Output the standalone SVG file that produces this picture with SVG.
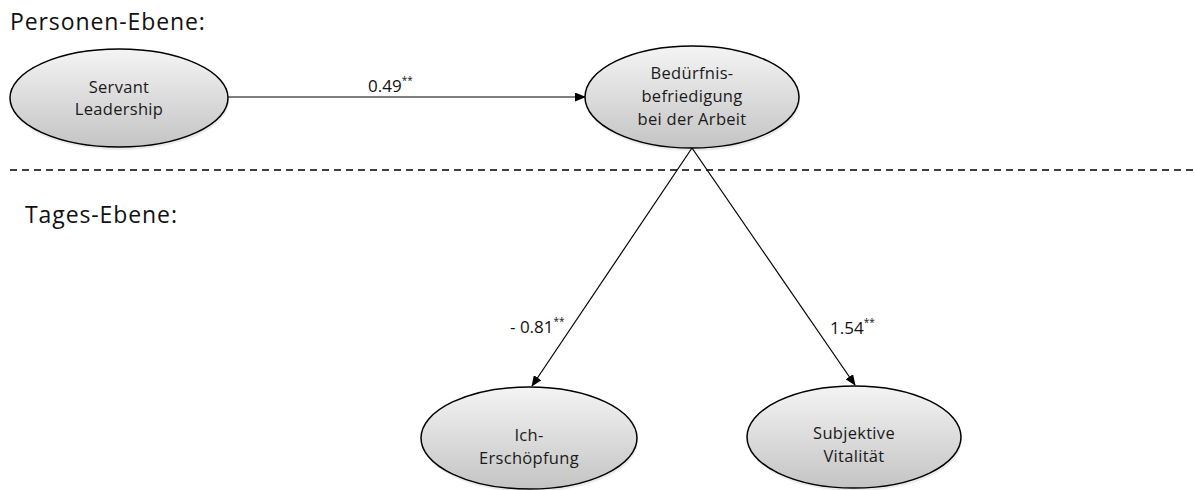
<svg xmlns="http://www.w3.org/2000/svg" width="1194" height="490" viewBox="0 0 1194 490">
<style>
.node{fill:url(#g);stroke:#000;stroke-width:1.5}
.shadow{fill:#000;opacity:0.08}
.t{font-family:"Open Sans","Noto Sans",sans-serif;font-size:16.5px;fill:#1a1a1a;text-anchor:middle;letter-spacing:0.3px}
.lbl{font-family:"Open Sans","Noto Sans",sans-serif;font-size:17px;fill:#111}
.sup{font-size:10px}
.h{font-family:"Open Sans","Noto Sans",sans-serif;font-size:23px;fill:#111;letter-spacing:0.9px}
.c{stroke:#000;stroke-width:1.2;fill:none;marker-end:url(#a)}
</style>
<defs>
<linearGradient id="g" x1="0" y1="0" x2="0" y2="1">
<stop offset="0" stop-color="#f4f4f4"/>
<stop offset="1" stop-color="#c4c4c4"/>
</linearGradient>
<marker id="a" markerWidth="11" markerHeight="9" refX="10" refY="4.5" orient="auto" markerUnits="userSpaceOnUse">
<path d="M0,0 L11,4.5 L0,9 z" fill="#000"/>
</marker>
</defs>
<rect width="1194" height="490" fill="#fff"/>
<text class="h" x="10" y="30">Personen-Ebene:</text>
<text class="h" x="25" y="223">Tages-Ebene:</text>
<line x1="10" y1="170" x2="1194" y2="170" stroke="#000" stroke-width="1.3" stroke-dasharray="7,5"/>
<g id="connectors">
<line class="c" x1="228" y1="97" x2="585" y2="97"/>
<line class="c" x1="692" y1="148" x2="532" y2="386"/>
<line class="c" x1="692" y1="148" x2="855" y2="385"/>
<text class="lbl" x="368" y="92">0.49<tspan class="sup" dy="-8">**</tspan></text>
<text class="lbl" x="510" y="333">- 0.81<tspan class="sup" dy="-8">**</tspan></text>
<text class="lbl" x="830" y="334">1.54<tspan class="sup" dy="-8">**</tspan></text>
</g>
<g id="servant">
<ellipse class="shadow" cx="120" cy="101" rx="109" ry="49"/>
<ellipse class="node" cx="119" cy="98" rx="109" ry="49"/>
<text class="t" x="119" y="93">Servant</text>
<text class="t" x="119" y="115">Leadership</text>
</g>
<g id="beduerfnis">
<ellipse class="shadow" cx="693" cy="100" rx="107" ry="51"/>
<ellipse class="node" cx="692" cy="97" rx="107" ry="51"/>
<text class="t" x="692" y="79">Bedürfnis-</text>
<text class="t" x="692" y="102">befriedigung</text>
<text class="t" x="692" y="125">bei der Arbeit</text>
</g>
<g id="ich">
<ellipse class="shadow" cx="530" cy="441" rx="108" ry="51"/>
<ellipse class="node" cx="529" cy="438" rx="108" ry="51"/>
<text class="t" x="529" y="441">Ich-</text>
<text class="t" x="529" y="464">Erschöpfung</text>
</g>
<g id="vital">
<ellipse class="shadow" cx="855" cy="440" rx="107" ry="51"/>
<ellipse class="node" cx="854" cy="437" rx="107" ry="51"/>
<text class="t" x="854" y="439">Subjektive</text>
<text class="t" x="854" y="462">Vitalität</text>
</g>
</svg>
